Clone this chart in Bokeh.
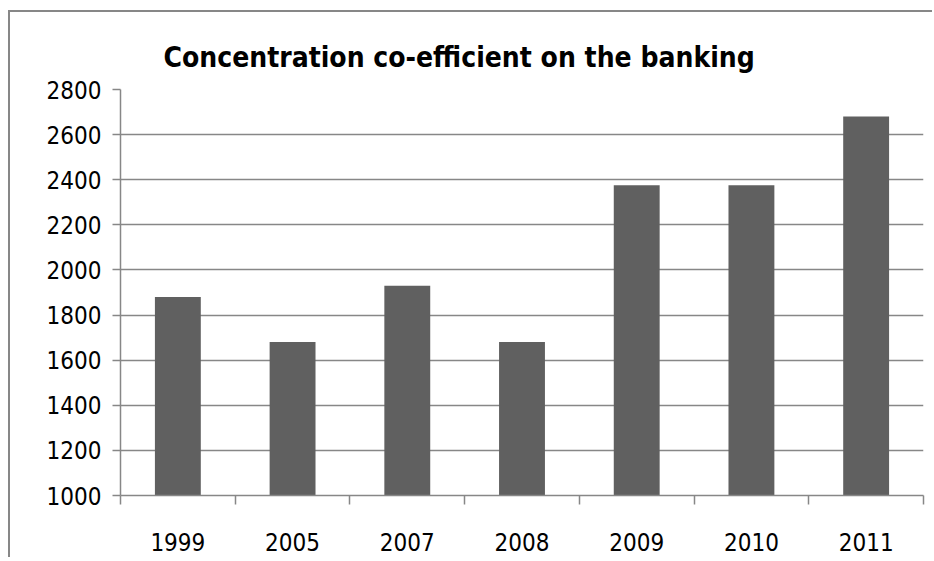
import numpy as np
from bokeh.plotting import figure
from bokeh.models import (Range1d, LinearAxis, FixedTicker, ColumnDataSource)
from bokeh.embed import file_html
from bokeh.resources import INLINE

years = ["1999", "2005", "2007", "2008", "2009", "2010", "2011"]
values = [1880, 1680, 1930, 1680, 2375, 2375, 2680]
y_ticks = [1000, 1200, 1400, 1600, 1800, 2000, 2200, 2400, 2600, 2800]
title_text = "Concentration co-efficient on the banking"

FONT = "DejaVu Sans Condensed"
GRAY = "#878787"

n = len(years)
centers = (np.arange(n) + 0.5).tolist()
bounds = list(range(n + 1))

src = ColumnDataSource(data=dict(x=centers, year=years, value=values))

p = figure(width=924, height=547, x_range=Range1d(0, n), y_range=Range1d(1000, 2800),
           x_axis_location=None, output_backend="svg", toolbar_location=None,
           min_border_left=110, min_border_right=11, min_border_top=77, min_border_bottom=64)
p.styles = {"margin-left": "8px", "margin-top": "10px",
            "border-left": "2px solid #878787", "border-top": "2px solid #878787"}
p.outline_line_color = None
p.background_fill_color = "white"
p.border_fill_color = "white"
p.xgrid.visible = False

p.vbar(x="x", top="value", bottom=1000, width=0.4, source=src,
       fill_color="#606060", line_color=None)

# y axis
ya = p.yaxis[0]
ya.ticker = FixedTicker(ticks=y_ticks)
ya.major_tick_out = 8
ya.major_tick_in = 0
ya.minor_tick_line_color = None
ya.axis_line_color = GRAY
ya.axis_line_width = 1.5
ya.major_tick_line_color = GRAY
ya.major_tick_line_width = 1.5
ya.major_label_text_font = FONT
ya.major_label_text_font_size = "24px"
ya.major_label_text_color = "black"
ya.major_label_standoff = 11

p.ygrid.ticker = FixedTicker(ticks=y_ticks)
p.ygrid.grid_line_color = GRAY
p.ygrid.grid_line_width = 1.5

# x axes: boundary ticks (no labels) + category labels
tick_axis = LinearAxis(ticker=FixedTicker(ticks=bounds),
                       major_tick_out=9, major_tick_in=0, minor_tick_line_color=None,
                       axis_line_color=GRAY, axis_line_width=1.5,
                       major_tick_line_color=GRAY, major_tick_line_width=1.5,
                       major_label_text_color=None, major_label_text_font_size="1px",
                       major_label_standoff=0)
p.add_layout(tick_axis, "below")
cat_axis = LinearAxis(ticker=FixedTicker(ticks=centers),
                      major_label_overrides={c: y for c, y in zip(centers, years)},
                      axis_line_color=None, major_tick_line_color=None,
                      minor_tick_line_color=None,
                      major_label_text_font=FONT, major_label_text_font_size="24px",
                      major_label_text_color="black", major_label_standoff=22)
p.add_layout(cat_axis, "below")

# title
p.title.text = title_text
p.title.align = "left"
p.title.offset = 43
p.title.text_font = FONT
p.title.text_font_size = "28px"
p.title.text_font_style = "bold"
p.title.text_color = "black"
p.title.standoff = 31

open("out.html", "w").write(file_html(p, INLINE))
